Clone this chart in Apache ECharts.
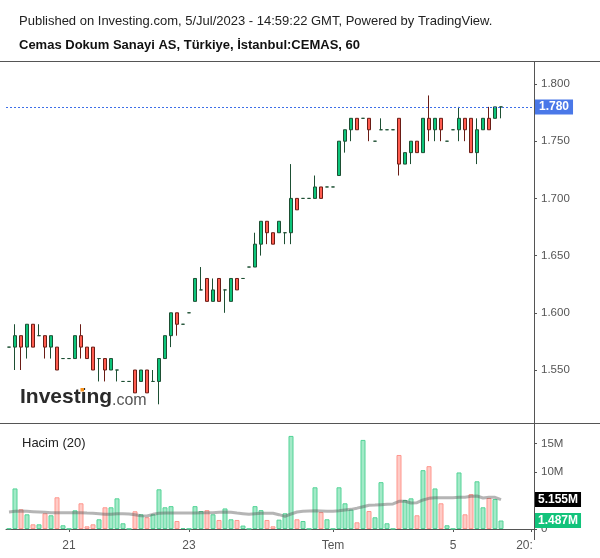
<!DOCTYPE html>
<html><head><meta charset="utf-8">
<script src="https://cdn.jsdelivr.net/npm/echarts@6/dist/echarts.min.js"></script>
<style>html,body{margin:0;padding:0;background:#fff}#c{width:600px;height:558px}</style>
</head><body><div id="c"></div>
<script>
const titleLine = 'Published on Investing.com, 5/Jul/2023 - 14:59:22 GMT, Powered by TradingView.';
const subtitleLine = 'Cemas Dokum Sanayi AS, Türkiye, İstanbul:CEMAS, 60';
const volumeTitle = 'Hacim (20)';
const slotCount = 88;
const xTickSlots = [10, 30, 54, 74, 87];
const xTickLabels = ['21', '23', 'Tem', '5', '20:'];
const priceTicks = [1.55, 1.60, 1.65, 1.70, 1.75, 1.80];
const priceTickLabels = ['1.550', '1.600', '1.650', '1.700', '1.750', '1.800'];
const volumeTicks = [0, 5, 10, 15];
const volumeTickLabels = ['0', '5M', '10M', '15M'];

const opens = [
 1.57,1.57,1.58,1.57,1.59,1.58,1.58,1.57,1.57,1.56,
 1.56,1.56,1.58,1.57,1.57,1.56,1.56,1.55,1.55,1.54,
 1.54,1.55,1.54,1.55,1.54,1.54,1.56,1.58,1.60,1.59,
 1.60,1.61,1.62,1.63,1.61,1.63,1.62,1.61,1.63,1.63,
 1.64,1.64,1.66,1.68,1.67,1.67,1.67,1.67,1.70,1.70,
 1.70,1.70,1.71,1.71,1.71,1.72,1.75,1.76,1.77,1.77,
 1.77,1.75,1.76,1.76,1.76,1.77,1.73,1.74,1.75,1.74,
 1.77,1.76,1.77,1.75,1.76,1.76,1.77,1.77,1.74,1.76,
 1.77,1.77,1.78];
const closes = [
 1.57,1.58,1.57,1.59,1.57,1.58,1.57,1.58,1.55,1.56,
 1.56,1.58,1.57,1.56,1.55,1.56,1.55,1.56,1.55,1.54,
 1.54,1.53,1.55,1.53,1.54,1.56,1.58,1.60,1.59,1.59,
 1.60,1.63,1.62,1.61,1.62,1.61,1.62,1.63,1.62,1.63,
 1.64,1.66,1.68,1.67,1.66,1.68,1.67,1.70,1.69,1.70,
 1.70,1.71,1.70,1.71,1.71,1.75,1.76,1.77,1.76,1.77,
 1.76,1.75,1.76,1.76,1.76,1.73,1.74,1.75,1.74,1.77,
 1.76,1.77,1.76,1.75,1.76,1.77,1.76,1.74,1.76,1.77,
 1.76,1.78,1.78];
const lows = [
 1.57,1.55,1.55,1.56,1.57,1.58,1.56,1.56,1.55,1.56,
 1.56,1.56,1.56,1.56,1.55,1.54,1.54,1.55,1.54,1.54,
 1.54,1.53,1.54,1.53,1.54,1.52,1.56,1.57,1.58,1.59,
 1.60,1.61,1.62,1.61,1.61,1.61,1.60,1.61,1.62,1.63,
 1.64,1.64,1.65,1.66,1.66,1.67,1.66,1.66,1.69,1.70,
 1.70,1.70,1.70,1.71,1.71,1.72,1.74,1.75,1.76,1.77,
 1.75,1.75,1.76,1.76,1.76,1.72,1.73,1.73,1.74,1.74,
 1.75,1.75,1.75,1.75,1.76,1.75,1.75,1.74,1.73,1.76,
 1.76,1.77,1.77];
const highs = [
 1.57,1.59,1.58,1.59,1.59,1.59,1.58,1.58,1.57,1.56,
 1.56,1.58,1.59,1.57,1.57,1.56,1.56,1.56,1.55,1.54,
 1.54,1.55,1.55,1.55,1.55,1.56,1.58,1.60,1.60,1.59,
 1.60,1.63,1.64,1.63,1.63,1.63,1.62,1.63,1.63,1.63,
 1.64,1.67,1.68,1.68,1.67,1.68,1.67,1.73,1.70,1.70,
 1.70,1.72,1.71,1.71,1.71,1.75,1.76,1.77,1.77,1.77,
 1.77,1.75,1.77,1.76,1.76,1.77,1.74,1.75,1.75,1.77,
 1.79,1.77,1.77,1.75,1.76,1.78,1.77,1.77,1.77,1.77,
 1.78,1.78,1.78];
// volume in millions
const volumes = [
 0.1,7.1,3.45,2.57,0.82,0.82,2.75,2.4,5.55,0.65,
 0.05,3.27,4.5,0.47,0.82,1.7,3.8,3.8,5.37,1.0,
 0.05,3.1,2.57,2.05,2.57,6.95,3.8,4.0,1.4,0.17,
 0.05,4.0,3.15,3.3,2.57,1.58,3.6,1.7,1.58,0.6,
 0.05,4.0,3.3,1.58,0.47,1.64,2.75,16.3,1.7,1.4,
 0.05,7.3,2.96,1.7,0.05,7.3,4.5,3.4,1.17,15.6,
 3.15,2.05,8.2,1.0,0.05,12.96,5.08,5.37,2.4,10.3,
 11.0,7.1,4.5,0.65,0.05,9.9,2.57,6.1,8.35,3.8,
 5.43,5.25,1.487];
const volumeMA = [
 2.98,3.1,3.15,3.1,3.04,2.98,2.92,2.86,2.86,2.86,
 2.86,2.86,2.86,2.8,2.75,2.69,2.57,2.57,2.69,2.69,
 2.63,2.51,2.33,2.28,2.57,2.75,2.8,2.8,2.8,2.8,
 2.8,2.8,2.86,2.86,2.86,2.92,2.98,2.92,2.8,2.69,
 2.57,2.69,2.75,2.75,2.75,2.51,2.22,2.63,2.98,3.1,
 3.15,3.2,3.15,3.1,3.1,3.2,3.33,3.44,3.65,3.9,
 4.15,4.2,4.26,4.32,4.38,4.85,4.85,4.55,4.6,5.08,
 5.37,5.49,5.49,5.49,5.49,5.55,5.55,5.72,5.78,5.43,
 5.55,5.55,5.155];

const FONT = "'Liberation Sans', Arial, sans-serif";
const slots = Array.from({length: slotCount}, (_, i) => String(i));
const candleData = opens.map((o, i) => [o, closes[i], lows[i], highs[i]]);
const UP = {fill: '#a3eac8', border: '#52d396'};
const DOWN = {fill: '#ffcbc6', border: '#ff968d'};
const volumeData = volumes.map((v, i) => {
  const c = closes[i] >= opens[i] ? UP : DOWN;
  return {value: v, itemStyle: {color: c.fill, borderColor: c.border, borderWidth: 1}};
});
const lastPrice = closes[closes.length - 1];
const lastVolume = volumes[volumes.length - 1];
const lastMA = volumeMA[volumeMA.length - 1];

const chart = echarts.init(document.getElementById('c'));
const axisGray = '#555';
const hiddenLine = {color: 'rgba(0,0,0,0)', width: 1, type: 'solid'};
chart.setOption({
  animation: false,
  backgroundColor: '#fff',
  textStyle: {fontFamily: FONT},
  title: [
    {text: titleLine, left: 14, top: 10, textStyle: {fontSize: 13, fontWeight: 'normal', color: '#222', fontFamily: FONT}},
    {text: subtitleLine, left: 14, top: 34, textStyle: {fontSize: 13, fontWeight: 'bold', color: '#111', fontFamily: FONT}},
    {text: volumeTitle, left: 17, top: 432, textStyle: {fontSize: 13, fontWeight: 'normal', color: '#222', fontFamily: FONT}}
  ],
  grid: [
    {left: 6, width: 528, top: 61.12, height: 366.08},
    {left: 6, width: 528, top: 426.2, height: 102.8}
  ],
  xAxis: [
    {type: 'category', gridIndex: 0, data: slots, boundaryGap: true, show: false},
    {type: 'category', gridIndex: 1, data: slots, boundaryGap: true, offset: 5,
     axisLine: {show: true, lineStyle: {color: axisGray, width: 1}},
     axisTick: {show: true, length: 3, alignWithLabel: true, lineStyle: {color: axisGray},
       interval: (idx) => xTickSlots.includes(idx)},
     axisLabel: {show: true, interval: 0, margin: 6, fontSize: 12, color: '#555', fontFamily: FONT,
       formatter: (v) => {
         const k = xTickSlots.indexOf(Number(v));
         if (k < 0) return '';
         return k === xTickSlots.length - 1 ? '{clip|' + xTickLabels[k] + '}' : xTickLabels[k];
       },
       rich: {clip: {fontSize: 12, color: '#555', padding: [0, 13, 0, 0], fontFamily: FONT}}},
     splitLine: {show: false}}
  ],
  yAxis: [
    {type: 'value', gridIndex: 0, position: 'right', min: 1.50, max: 1.82,
     axisLine: {show: false},
     axisTick: {show: true, length: 3, lineStyle: {color: axisGray}, customValues: priceTicks},
     axisLabel: {margin: 7, fontSize: 11.5, color: '#555', fontFamily: FONT, customValues: priceTicks,
       formatter: (v) => { const k = priceTicks.findIndex(t => Math.abs(t - v) < 1e-6); return k < 0 ? '' : priceTickLabels[k]; }},
     splitLine: {show: false}},
    {type: 'value', gridIndex: 1, position: 'right', min: 0, max: 18,
     axisLine: {show: false},
     axisTick: {show: true, length: 3, lineStyle: {color: axisGray}, customValues: volumeTicks},
     axisLabel: {margin: 7, fontSize: 11.5, color: '#555', fontFamily: FONT, customValues: volumeTicks,
       formatter: (v) => { const k = volumeTicks.findIndex(t => Math.abs(t - v) < 1e-6); return k < 0 ? '' : volumeTickLabels[k]; }},
     splitLine: {show: false}}
  ],
  series: [
    {type: 'candlestick', xAxisIndex: 0, yAxisIndex: 0, data: candleData, barWidth: 4,
     itemStyle: {color: '#0dc47a', color0: '#ff5c4f', borderColor: '#1d4f33', borderColor0: '#6a1c15',
       borderColorDoji: '#1d4f33', borderWidth: 1},
     markLine: {silent: true, symbol: ['none', 'none'], animation: false,
       lineStyle: {color: '#3d6fe8', type: [2, 2], width: 1},
       label: {show: true, position: 'end', distance: 1, formatter: () => lastPrice.toFixed(3),
         backgroundColor: '#4a78e8', color: '#fff', fontWeight: 'bold', fontSize: 12, fontFamily: FONT,
         padding: [2, 4, 1, 4]},
       data: [{yAxis: lastPrice}]}},
    {type: 'bar', xAxisIndex: 1, yAxisIndex: 1, data: volumeData, barWidth: 5,
     markLine: {silent: true, symbol: ['none', 'none'], animation: false,
       lineStyle: hiddenLine,
       label: {show: true, position: 'end', distance: 1, formatter: () => lastVolume.toFixed(3) + 'M',
         backgroundColor: '#12c37b', color: '#fff', fontWeight: 'bold', fontSize: 12, fontFamily: FONT,
         padding: [2, 3, 1, 3]},
       data: [{yAxis: lastVolume}]}},
    {type: 'line', xAxisIndex: 1, yAxisIndex: 1, data: volumeMA, symbol: 'none', smooth: false, z: 3,
     lineStyle: {color: 'rgba(90,90,90,0.45)', width: 3},
     markLine: {silent: true, symbol: ['none', 'none'], animation: false,
       lineStyle: hiddenLine,
       label: {show: true, position: 'end', distance: 1, formatter: () => lastMA.toFixed(3) + 'M',
         backgroundColor: '#000', color: '#fff', fontWeight: 'bold', fontSize: 12, fontFamily: FONT,
         padding: [2, 3, 1, 3]},
       data: [{yAxis: lastMA}]}}
  ],
  graphic: [
    {type: 'line', silent: true, shape: {x1: 0, y1: 61.5, x2: 600, y2: 61.5}, style: {stroke: axisGray, lineWidth: 1}},
    {type: 'line', silent: true, shape: {x1: 0, y1: 423.5, x2: 600, y2: 423.5}, style: {stroke: axisGray, lineWidth: 1}},
    {type: 'line', silent: true, shape: {x1: 534.5, y1: 61.5, x2: 534.5, y2: 540}, style: {stroke: axisGray, lineWidth: 1}},
    {type: 'text', silent: true, left: 20, top: 387, style: {text: 'Investing', font: "bold 21px 'Liberation Sans', Arial", fill: '#2a2a2a'}},
    {type: 'text', silent: true, left: 112, top: 393, style: {text: '.com', font: "16px 'Liberation Sans', Arial", fill: '#555'}},
    {type: 'rect', silent: true, shape: {x: 80.5, y: 388, width: 3.5, height: 3.5}, style: {fill: '#f7931e'}}
  ]
});
</script>
</body></html>
